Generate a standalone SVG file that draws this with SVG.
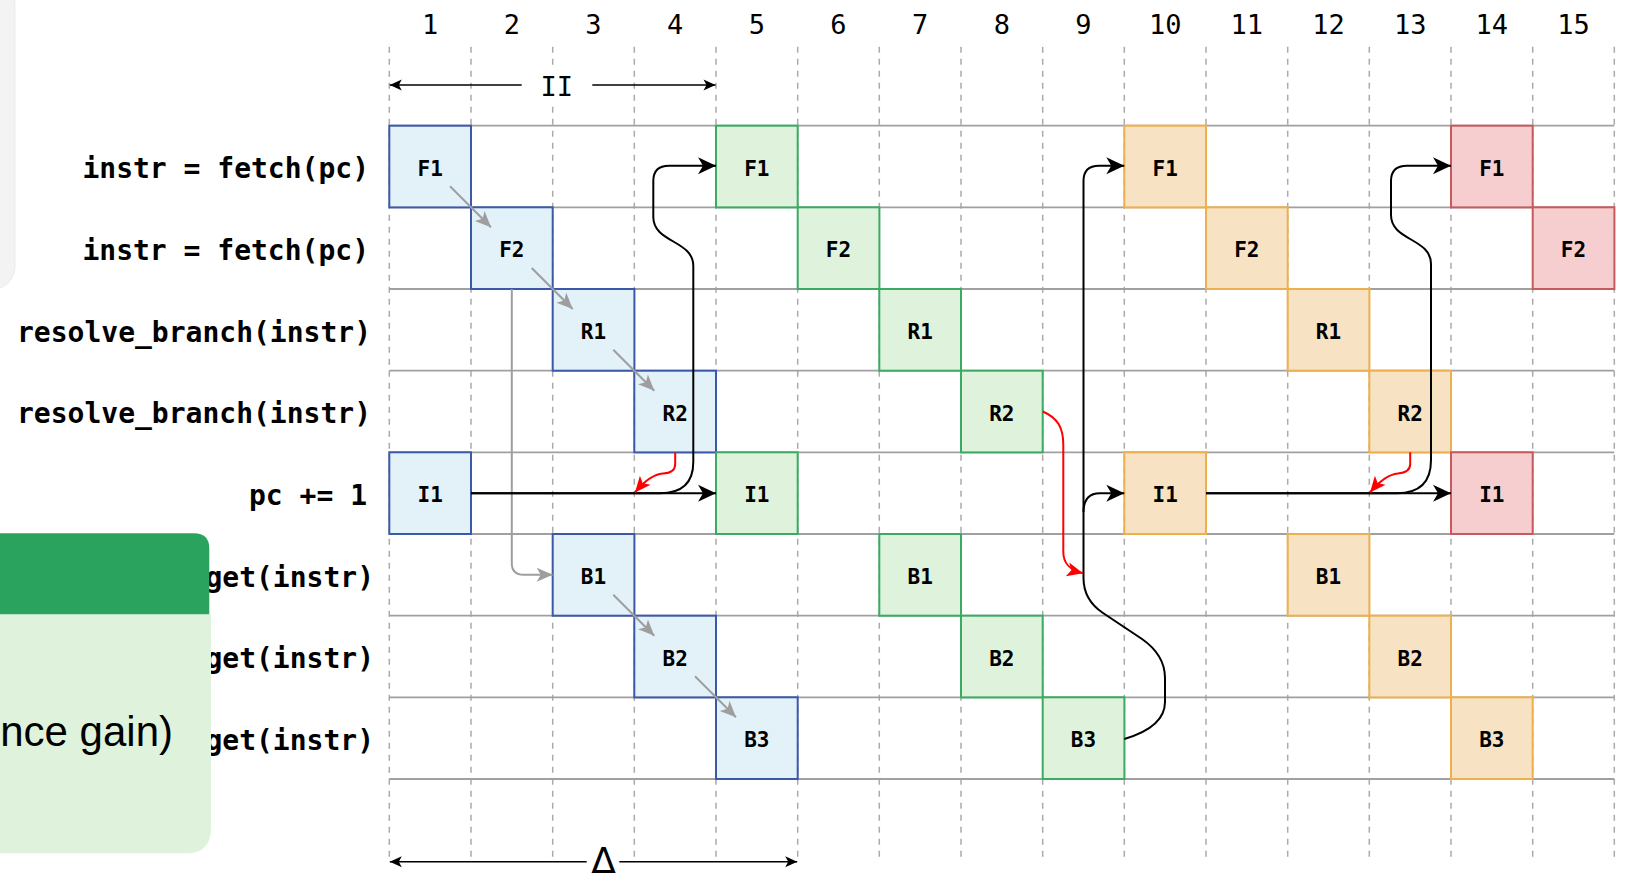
<svg xmlns="http://www.w3.org/2000/svg" width="1626" height="879" viewBox="0 0 1626 879">
<defs>
<style>
.vl{stroke:#aaaaaa;stroke-width:1.5;stroke-dasharray:6 6;fill:none}
.hl{stroke:#a0a0a0;stroke-width:1.8;fill:none}
.lbl{font-family:"DejaVu Sans Mono",monospace;font-weight:bold;font-size:28px;fill:#000;text-anchor:end}
.num{font-family:"DejaVu Sans Mono",monospace;font-size:27px;fill:#000;text-anchor:middle}
.ct{font-family:"DejaVu Sans Mono",monospace;font-weight:bold;font-size:21px;fill:#000;text-anchor:middle}
.b rect{fill:#e3f2f9;stroke:#3c58a8;stroke-width:2}
.g rect{fill:#dff2dc;stroke:#3aab63;stroke-width:2}
.o rect{fill:#f7e2c3;stroke:#eeb04e;stroke-width:2}
.r rect{fill:#f6cecf;stroke:#c75a5c;stroke-width:2}
.gy{stroke:#9e9e9e;stroke-width:2;fill:none}
.bk{stroke:#000;stroke-width:2;fill:none}
.rd{stroke:#ff0000;stroke-width:2;fill:none}
.dim{stroke:#000;stroke-width:1.6;fill:none}
</style>
<marker id="mBk" markerUnits="userSpaceOnUse" markerWidth="22" markerHeight="22" viewBox="-2 -11 22 22" refX="18" refY="0" orient="auto"><path d="M0,-8.5 L18,0 L0,8.5 L5,0 Z" fill="#000"/></marker>
<marker id="mGy" markerUnits="userSpaceOnUse" markerWidth="20" markerHeight="20" viewBox="-2 -10 20 20" refX="16" refY="0" orient="auto"><path d="M0,-7 L16,0 L0,7 L4,0 Z" fill="#9e9e9e"/></marker>
<marker id="mRd" markerUnits="userSpaceOnUse" markerWidth="20" markerHeight="20" viewBox="-2 -10 20 20" refX="16" refY="0" orient="auto"><path d="M0,-7 L16,0 L0,7 L4,0 Z" fill="#ff0000"/></marker>
<marker id="mDim" markerUnits="userSpaceOnUse" markerWidth="16" markerHeight="16" viewBox="-2 -8 16 16" refX="12" refY="0" orient="auto-start-reverse"><path d="M0,-5.5 L12,0 L0,5.5 L3,0 Z" fill="#000"/></marker>
</defs>
<rect width="1626" height="879" fill="#fff"/>

<!-- left background panel -->
<rect x="-40" y="-20" width="55" height="310" rx="24" fill="#f3f3f3" stroke="#ebebeb" stroke-width="1"/>

<!-- grid -->
<g id="grid">
<g class="vl">
<line x1="389.3" y1="46.7" x2="389.3" y2="860"/>
<line x1="471" y1="46.7" x2="471" y2="860"/>
<line x1="552.7" y1="46.7" x2="552.7" y2="860"/>
<line x1="634.3" y1="46.7" x2="634.3" y2="860"/>
<line x1="716" y1="46.7" x2="716" y2="860"/>
<line x1="797.7" y1="46.7" x2="797.7" y2="860"/>
<line x1="879.3" y1="46.7" x2="879.3" y2="860"/>
<line x1="961" y1="46.7" x2="961" y2="860"/>
<line x1="1042.7" y1="46.7" x2="1042.7" y2="860"/>
<line x1="1124.3" y1="46.7" x2="1124.3" y2="860"/>
<line x1="1206" y1="46.7" x2="1206" y2="860"/>
<line x1="1287.7" y1="46.7" x2="1287.7" y2="860"/>
<line x1="1369.3" y1="46.7" x2="1369.3" y2="860"/>
<line x1="1451" y1="46.7" x2="1451" y2="860"/>
<line x1="1532.7" y1="46.7" x2="1532.7" y2="860"/>
<line x1="1614.3" y1="46.7" x2="1614.3" y2="860"/>
</g>
<g class="hl">
<line x1="389.3" y1="125.7" x2="1614.3" y2="125.7"/>
<line x1="389.3" y1="207.3" x2="1614.3" y2="207.3"/>
<line x1="389.3" y1="289" x2="1614.3" y2="289"/>
<line x1="389.3" y1="370.7" x2="1614.3" y2="370.7"/>
<line x1="389.3" y1="452.3" x2="1614.3" y2="452.3"/>
<line x1="389.3" y1="534" x2="1614.3" y2="534"/>
<line x1="389.3" y1="615.7" x2="1614.3" y2="615.7"/>
<line x1="389.3" y1="697.3" x2="1614.3" y2="697.3"/>
<line x1="389.3" y1="779" x2="1614.3" y2="779"/>
</g>
</g>

<!-- column numbers -->
<g id="cols" class="num">
<text x="430.2" y="34.3">1</text>
<text x="511.8" y="34.3">2</text>
<text x="593.5" y="34.3">3</text>
<text x="675.2" y="34.3">4</text>
<text x="756.8" y="34.3">5</text>
<text x="838.5" y="34.3">6</text>
<text x="920.2" y="34.3">7</text>
<text x="1001.8" y="34.3">8</text>
<text x="1083.5" y="34.3">9</text>
<text x="1165.2" y="34.3">10</text>
<text x="1246.8" y="34.3">11</text>
<text x="1328.5" y="34.3">12</text>
<text x="1410.2" y="34.3">13</text>
<text x="1491.8" y="34.3">14</text>
<text x="1573.5" y="34.3">15</text>
</g>

<!-- row labels -->
<g id="labels" class="lbl">
<text x="369" y="178.3">instr = fetch(pc)</text>
<text x="369" y="260">instr = fetch(pc)</text>
<text x="371" y="341.6">resolve_branch(instr)</text>
<text x="371" y="423.3">resolve_branch(instr)</text>
<text x="367" y="505">pc += 1</text>
<text x="374" y="586.6">get(instr)</text>
<text x="374" y="668.3">get(instr)</text>
<text x="374" y="750">get(instr)</text>
</g>

<!-- green panel (cropped) -->
<g id="panel">
<path d="M-50,614.3 L211,614.3 L211,828 Q211,853.3 186,853.3 L-50,853.3 Z" fill="#dff2db"/>
<path d="M-50,533.3 L194,533.3 Q209.3,533.3 209.3,548.6 L209.3,614.3 L-50,614.3 Z" fill="#2aa35e"/>
<text x="173" y="745.7" font-family="Liberation Sans, Arial, sans-serif" font-size="42" fill="#000" text-anchor="end">nce gain)</text>
</g>

<!-- iteration 1 (blue) -->
<g id="b-F1" class="b"><rect x="389.3" y="125.7" width="81.7" height="81.7"/><text class="ct" x="430.2" y="175.7">F1</text></g>
<g id="b-F2" class="b"><rect x="471" y="207.3" width="81.7" height="81.7"/><text class="ct" x="511.8" y="257.4">F2</text></g>
<g id="b-R1" class="b"><rect x="552.7" y="289" width="81.7" height="81.7"/><text class="ct" x="593.5" y="339">R1</text></g>
<g id="b-R2" class="b"><rect x="634.3" y="370.7" width="81.7" height="81.7"/><text class="ct" x="675.2" y="420.7">R2</text></g>
<g id="b-I1" class="b"><rect x="389.3" y="452.3" width="81.7" height="81.7"/><text class="ct" x="430.2" y="502.4">I1</text></g>
<g id="b-B1" class="b"><rect x="552.7" y="534" width="81.7" height="81.7"/><text class="ct" x="593.5" y="584">B1</text></g>
<g id="b-B2" class="b"><rect x="634.3" y="615.7" width="81.7" height="81.7"/><text class="ct" x="675.2" y="665.7">B2</text></g>
<g id="b-B3" class="b"><rect x="716" y="697.3" width="81.7" height="81.7"/><text class="ct" x="756.8" y="747.4">B3</text></g>

<!-- iteration 2 (green) -->
<g id="g-F1" class="g"><rect x="716" y="125.7" width="81.7" height="81.7"/><text class="ct" x="756.8" y="175.7">F1</text></g>
<g id="g-F2" class="g"><rect x="797.7" y="207.3" width="81.7" height="81.7"/><text class="ct" x="838.5" y="257.4">F2</text></g>
<g id="g-R1" class="g"><rect x="879.3" y="289" width="81.7" height="81.7"/><text class="ct" x="920.2" y="339">R1</text></g>
<g id="g-R2" class="g"><rect x="961" y="370.7" width="81.7" height="81.7"/><text class="ct" x="1001.8" y="420.7">R2</text></g>
<g id="g-I1" class="g"><rect x="716" y="452.3" width="81.7" height="81.7"/><text class="ct" x="756.8" y="502.4">I1</text></g>
<g id="g-B1" class="g"><rect x="879.3" y="534" width="81.7" height="81.7"/><text class="ct" x="920.2" y="584">B1</text></g>
<g id="g-B2" class="g"><rect x="961" y="615.7" width="81.7" height="81.7"/><text class="ct" x="1001.8" y="665.7">B2</text></g>
<g id="g-B3" class="g"><rect x="1042.7" y="697.3" width="81.7" height="81.7"/><text class="ct" x="1083.5" y="747.4">B3</text></g>

<!-- iteration 3 (orange) -->
<g id="o-F1" class="o"><rect x="1124.3" y="125.7" width="81.7" height="81.7"/><text class="ct" x="1165.2" y="175.7">F1</text></g>
<g id="o-F2" class="o"><rect x="1206" y="207.3" width="81.7" height="81.7"/><text class="ct" x="1246.8" y="257.4">F2</text></g>
<g id="o-R1" class="o"><rect x="1287.7" y="289" width="81.7" height="81.7"/><text class="ct" x="1328.5" y="339">R1</text></g>
<g id="o-R2" class="o"><rect x="1369.3" y="370.7" width="81.7" height="81.7"/><text class="ct" x="1410.2" y="420.7">R2</text></g>
<g id="o-I1" class="o"><rect x="1124.3" y="452.3" width="81.7" height="81.7"/><text class="ct" x="1165.2" y="502.4">I1</text></g>
<g id="o-B1" class="o"><rect x="1287.7" y="534" width="81.7" height="81.7"/><text class="ct" x="1328.5" y="584">B1</text></g>
<g id="o-B2" class="o"><rect x="1369.3" y="615.7" width="81.7" height="81.7"/><text class="ct" x="1410.2" y="665.7">B2</text></g>
<g id="o-B3" class="o"><rect x="1451" y="697.3" width="81.7" height="81.7"/><text class="ct" x="1491.8" y="747.4">B3</text></g>

<!-- iteration 4 (red) -->
<g id="r-F1" class="r"><rect x="1451" y="125.7" width="81.7" height="81.7"/><text class="ct" x="1491.8" y="175.7">F1</text></g>
<g id="r-F2" class="r"><rect x="1532.7" y="207.3" width="81.7" height="81.7"/><text class="ct" x="1573.5" y="257.4">F2</text></g>
<g id="r-I1" class="r"><rect x="1451" y="452.3" width="81.7" height="81.7"/><text class="ct" x="1491.8" y="502.4">I1</text></g>

<!-- connectors -->
<g id="connectors">
<g class="gy" marker-end="url(#mGy)">
<path d="M450,186.3 L491,227.3"/>
<path d="M531.7,268 L572.7,309"/>
<path d="M613.3,349.7 L654.3,390.7"/>
<path d="M613.3,594.7 L654.3,635.7"/>
<path d="M695,676.3 L736,717.3"/>
<path d="M511.8,289 L511.8,563 Q511.8,574.8 523.6,574.8 L552.7,574.8"/>
</g>
<g class="bk" marker-end="url(#mBk)">
<path d="M471,493.2 L716,493.2"/>
<path d="M471,493.2 L660,493.2 Q693.3,493.2 693.3,462 L693.3,266 C693.3,240 653.3,243 653.3,217 L653.3,181 Q653.3,165.7 669,165.7 L716,165.7"/>
<path d="M1124.3,739 Q1165,727 1165,702 L1165,678 Q1165,655 1142,639 L1103,613 Q1083.5,600 1083.5,578 L1083.5,181 Q1083.5,165.7 1099,165.7 L1124.3,165.7"/>
<path d="M1083.5,512 Q1083.5,493.2 1100,493.2 L1124.3,493.2"/>
<path d="M1206,493.2 L1451,493.2"/>
<path d="M1206,493.2 L1397,493.2 Q1431,493.2 1431,460 L1431,264 C1431,238 1391,241 1391,215 L1391,181 Q1391,165.7 1407,165.7 L1451,165.7"/>
</g>
<g class="rd" marker-end="url(#mRd)">
<path d="M675.2,452.3 L675.2,464 Q675.2,473 663,473.6 Q650,474.5 635,492.4"/>
<path d="M1042.7,411.5 C1058,418 1063.3,428 1063.3,445 L1063.3,552 C1063.3,564 1070,570 1083,573.3"/>
<path d="M1410.2,452.3 L1410.2,464 Q1410.2,472.5 1398,473.4 Q1385,474.5 1370,492.4"/>
</g>
</g>

<!-- dimension II -->
<g id="dim-II">
<line class="dim" x1="389.8" y1="85" x2="715.5" y2="85" marker-start="url(#mDim)" marker-end="url(#mDim)"/>
<rect x="521.7" y="66.7" width="70.6" height="36.6" fill="#fff"/>
<text class="num" x="556.7" y="95.7">II</text>
</g>

<!-- dimension delta -->
<g id="dim-delta">
<line class="dim" x1="389.8" y1="861.7" x2="797.2" y2="861.7" marker-start="url(#mDim)" marker-end="url(#mDim)"/>
<rect x="586.7" y="835" width="32.6" height="44" fill="#fff"/>
<text x="603.5" y="873.3" font-family="DejaVu Sans, sans-serif" font-size="36" fill="#000" text-anchor="middle">Δ</text>
</g>
</svg>
